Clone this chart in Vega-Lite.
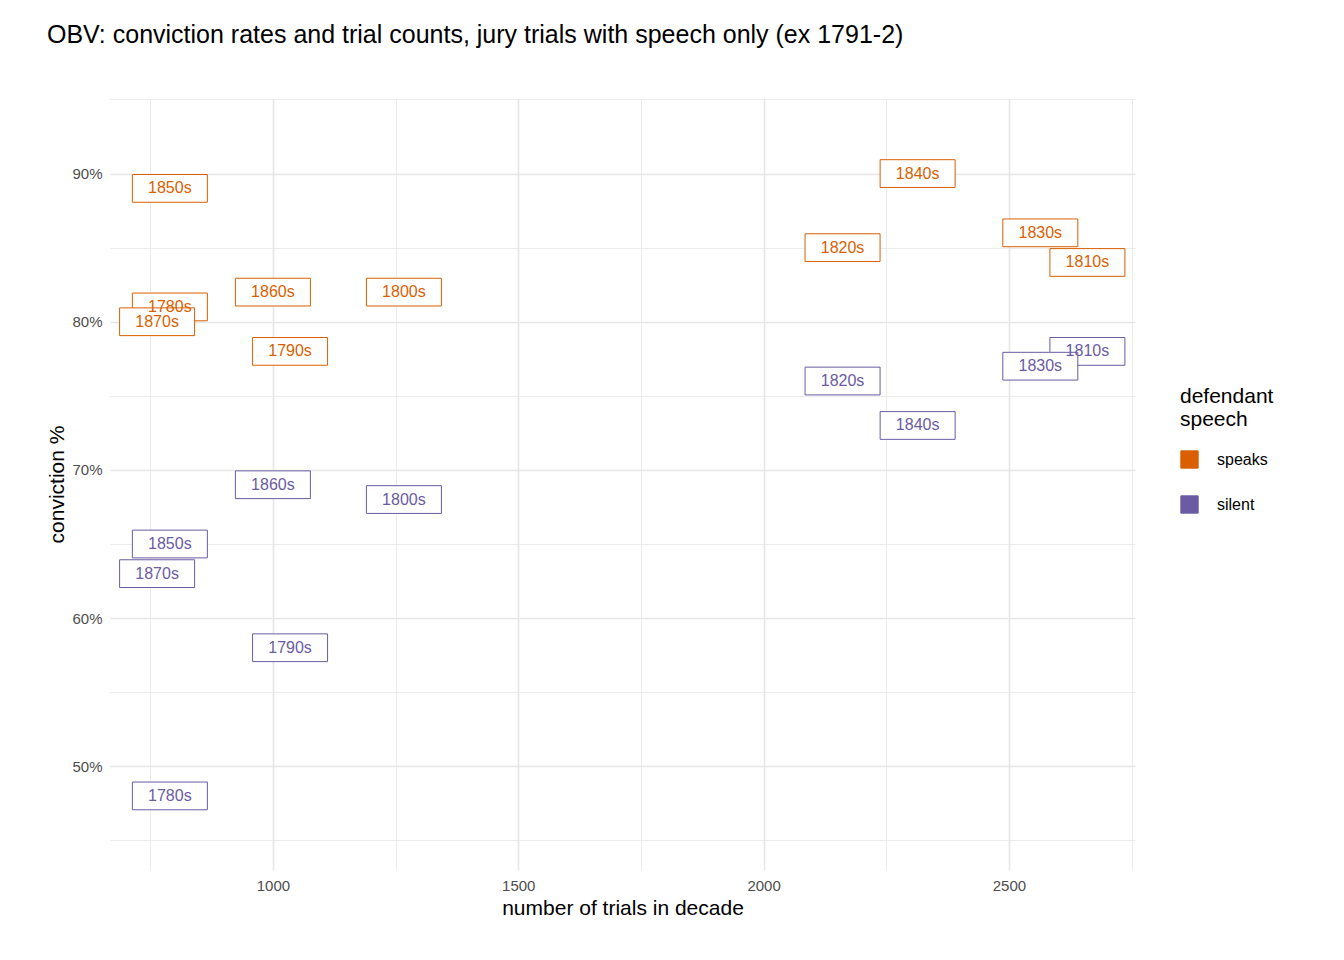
{
  "$schema": "https://vega.github.io/schema/vega-lite/v6.json",
  "autosize": "none",
  "width": 1025,
  "height": 772,
  "padding": {"left": 110, "right": 209, "top": 98, "bottom": 90},
  "title": {
    "text": "OBV: conviction rates and trial counts, jury trials with speech only (ex 1791-2)",
    "font": "Liberation Sans", "fontSize": 25, "fontWeight": "normal",
    "anchor": "start", "frame": "bounds", "offset": 50, "color": "#000"
  },
  "data": {
    "values": [
      {"decade": "1850s", "speech": "speaks", "trials": 790, "rate": 89.0},
      {"decade": "1780s", "speech": "speaks", "trials": 790, "rate": 81.0},
      {"decade": "1870s", "speech": "speaks", "trials": 764, "rate": 80.0},
      {"decade": "1860s", "speech": "speaks", "trials": 1000, "rate": 82.0},
      {"decade": "1800s", "speech": "speaks", "trials": 1267, "rate": 82.0},
      {"decade": "1790s", "speech": "speaks", "trials": 1035, "rate": 78.0},
      {"decade": "1820s", "speech": "speaks", "trials": 2161, "rate": 85.0},
      {"decade": "1840s", "speech": "speaks", "trials": 2314, "rate": 90.0},
      {"decade": "1830s", "speech": "speaks", "trials": 2564, "rate": 86.0},
      {"decade": "1810s", "speech": "speaks", "trials": 2660, "rate": 84.0},
      {"decade": "1810s", "speech": "silent", "trials": 2660, "rate": 78.0},
      {"decade": "1830s", "speech": "silent", "trials": 2564, "rate": 77.0},
      {"decade": "1820s", "speech": "silent", "trials": 2161, "rate": 76.0},
      {"decade": "1840s", "speech": "silent", "trials": 2314, "rate": 73.0},
      {"decade": "1860s", "speech": "silent", "trials": 1000, "rate": 69.0},
      {"decade": "1800s", "speech": "silent", "trials": 1267, "rate": 68.0},
      {"decade": "1850s", "speech": "silent", "trials": 790, "rate": 65.0},
      {"decade": "1870s", "speech": "silent", "trials": 764, "rate": 63.0},
      {"decade": "1790s", "speech": "silent", "trials": 1035, "rate": 58.0},
      {"decade": "1780s", "speech": "silent", "trials": 790, "rate": 48.0}
    ]
  },
  "encoding": {
    "x": {
      "field": "trials", "type": "quantitative", "title": "number of trials in decade",
      "scale": {"domain": [668, 2757], "nice": false, "zero": false},
      "axis": {
        "values": [750, 1000, 1250, 1500, 1750, 2000, 2250, 2500, 2750],
        "labelExpr": "datum.value % 500 == 0 ? datum.label : ''",
        "format": "d",
        "gridWidth": {"expr": "datum.value % 500 == 0 ? 1.6 : 0.8"}
      }
    },
    "y": {
      "field": "rate", "type": "quantitative", "title": "conviction %",
      "scale": {"domain": [43, 95.1], "nice": false, "zero": false},
      "axis": {
        "values": [45, 50, 55, 60, 65, 70, 75, 80, 85, 90, 95],
        "labelExpr": "datum.value % 10 == 0 ? datum.value + '%' : ''",
        "gridWidth": {"expr": "datum.value % 10 == 0 ? 1.6 : 0.8"}
      }
    },
    "color": {
      "field": "speech", "type": "nominal",
      "scale": {"domain": ["speaks", "silent"], "range": ["#d95f02", "#6a5ba3"]},
      "legend": {
        "orient": "none", "legendX": 1070, "legendY": 288,
        "title": ["defendant", "speech"],
        "symbolType": "square", "symbolSize": 300, "symbolStrokeWidth": 1,
        "titleFontSize": 21, "labelFontSize": 16, "titleFontWeight": "normal",
        "titleFont": "Liberation Sans", "labelFont": "Liberation Sans",
        "rowPadding": 22, "titlePadding": 20, "labelOffset": 18
      }
    }
  },
  "layer": [
    {
      "mark": {
        "type": "point", "filled": false, "fill": "white", "fillOpacity": 1,
        "strokeWidth": 1, "opacity": 1,
        "shape": "M-1,-0.37L1,-0.37L1,0.37L-1,0.37Z", "size": 5625
      }
    },
    {
      "mark": {"type": "text", "font": "Liberation Sans", "fontSize": 16, "baseline": "middle"},
      "encoding": {"text": {"field": "decade"}}
    }
  ],
  "config": {
    "view": {"stroke": null},
    "axis": {
      "domain": false, "ticks": false, "gridColor": "#e6e6e6",
      "labelFont": "Liberation Sans", "titleFont": "Liberation Sans",
      "labelFontSize": 15, "titleFontSize": 21, "titleFontWeight": "normal",
      "labelColor": "#4d4d4d", "titleColor": "#000", "labelPadding": 8
    }
  }
}
